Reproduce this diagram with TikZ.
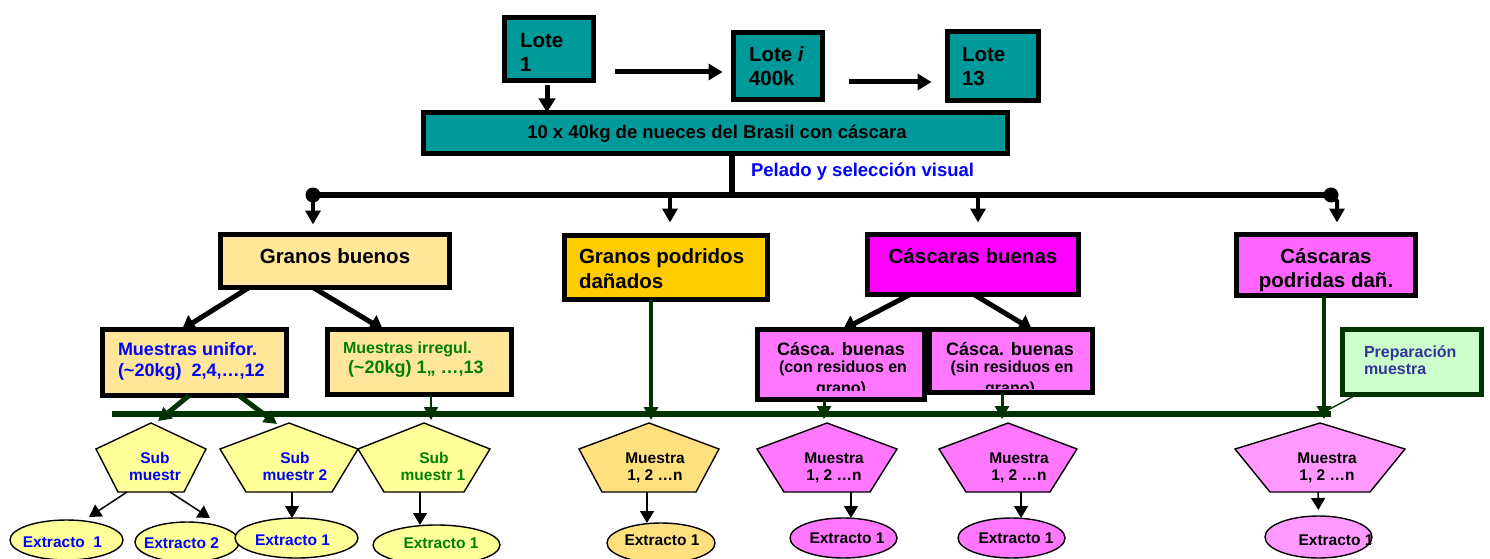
\documentclass[tikz,border=0pt]{standalone}
\usepackage{fontspec}
\setmainfont{Liberation Sans}
\usetikzlibrary{arrows.meta,shapes.geometric}
\definecolor{teal1}{HTML}{009999}
\definecolor{ylight}{HTML}{FFE699}
\definecolor{gold}{HTML}{FFCC00}
\definecolor{mag}{HTML}{FF00FF}
\definecolor{pinkA}{HTML}{FF77FF}
\definecolor{pinkB}{HTML}{FF99FF}
\definecolor{pinkC}{HTML}{FF66FF}
\definecolor{ypale}{HTML}{FFFF99}
\definecolor{ygold}{HTML}{FFE07F}
\definecolor{dkgreen}{HTML}{003300}
\definecolor{lgreen}{HTML}{CCFFCC}
\definecolor{txtgreen}{HTML}{008000}
\definecolor{txtpurple}{HTML}{333399}
\definecolor{txtblue}{HTML}{0000FF}
\newcommand\mypent[5]{%
  \draw[pent,fill=#5] (#2,423) -- (#2+#3,449) -- (#2+#4,492) -- (#2-#4,492) -- (#2-#3,449) -- cycle;
  \coordinate (#1t) at (#2,423);
  \coordinate (#1b) at (#2,492);}
\begin{document}
\begin{tikzpicture}[x=1pt,y=-1pt,
  box/.style={draw=black,line width=5pt,inner sep=0pt,outer sep=0pt},
  tb/.style={inner sep=0pt,outer sep=0pt,font=\fontsize{20.5}{24}\selectfont\bfseries},
  tm/.style={inner sep=0pt,outer sep=0pt,font=\fontsize{18}{21}\selectfont\bfseries},
  tmain/.style={inner sep=0pt,outer sep=0pt,font=\fontsize{18.5}{22}\selectfont\bfseries},
  tn/.style={inner sep=0pt,outer sep=0pt,font=\fontsize{16}{19}\selectfont\bfseries},
  ts/.style={inner sep=0pt,outer sep=0pt,font=\fontsize{15.5}{18}\selectfont\bfseries},
  bl/.style={draw=black,line width=6pt},
  barrow/.style={draw=black,line width=5pt,-{Triangle[length=14pt,width=16pt]}},
  darrow/.style={draw=black,line width=4pt,-{Triangle[length=14pt,width=15pt]}},
  karrow/.style={draw=black,line width=5pt,-{Triangle[length=13pt,width=17pt]}},
  gl/.style={draw=dkgreen,line width=5.5pt},
  garrow/.style={draw=dkgreen,-{Triangle[length=13pt,width=14pt]}},
  tarrow/.style={draw=black,line width=1.5pt,-{Triangle[length=12pt,width=14pt]}},
  ell/.style={draw=black,line width=1.4pt,ellipse,inner sep=0pt,outer sep=0pt},
  pent/.style={draw=black,line width=1.4pt,line join=miter},
]
\useasboundingbox (0,0) rectangle (1490,559);

% ---- lots and main bar
\node[box,fill=teal1,minimum width=89pt,minimum height=63pt] (lote1) at (549,49) {};
\node[box,fill=teal1,minimum width=89pt,minimum height=67pt] (lotei) at (778,66) {};
\node[box,fill=teal1,minimum width=91pt,minimum height=69pt] (lote13) at (993,66) {};
\node[box,fill=teal1,minimum width=584pt,minimum height=41pt] (main) at (715.5,133) {};

\draw[barrow,shorten <=21pt,shorten >=11pt] (lote1.east |- 0,72) -- (lotei.west |- 0,72);
\draw[barrow,shorten <=26pt,shorten >=16pt] (lotei.east |- 0,82) -- (lote13.west |- 0,82);
\draw[barrow,shorten <=5pt] (547,0 |- lote1.south) -- (547,0 |- main.north);

% ---- distribution line
\coordinate (jL) at (313,195);
\coordinate (jR) at (1331,195);
\coordinate (jM) at (732,195);
\draw[bl] (732,0 |- main.south) -- (jM);
\draw[bl] (jL) -- (jR);
\fill (jL) circle (7.5pt);
\fill (jR) circle (7.5pt);

% ---- category boxes
\node[box,fill=ylight,minimum width=229pt,minimum height=53pt] (gb) at (335,261) {};
\node[box,fill=gold,minimum width=203pt,minimum height=64pt] (gpd) at (666,267.5) {};
\node[box,fill=mag,minimum width=211pt,minimum height=60pt] (cb) at (973,264.5) {};
\node[box,fill=pinkC,minimum width=179pt,minimum height=61pt] (cpd) at (1326,265) {};

\draw[darrow,shorten >=10pt] (jL) -- (jL |- gb.north);
\draw[darrow,shorten >=13pt] (670,195) -- (670,0 |- gpd.north);
\draw[darrow,shorten >=12pt] (978,195) -- (978,0 |- cb.north);
\draw[darrow,shorten >=12pt] (jR) -- (1337,201) -- (1337,0 |- cpd.north);

% ---- sub boxes
\node[box,fill=ylight,minimum width=184pt,minimum height=66pt] (mu) at (194.5,362.5) {};
\node[box,fill=ylight,minimum width=184pt,minimum height=65pt] (mi) at (419.5,362) {};
\node[box,fill=pinkA,minimum width=167pt,minimum height=70pt] (cbc) at (841,364.5) {};
\node[box,fill=pinkA,minimum width=163pt,minimum height=63pt] (cbs) at (1011,361) {};
\node[box,draw=dkgreen,fill=lgreen,minimum width=139pt,minimum height=65pt] (prep) at (1412,362) {};

\draw[karrow] (249,0 |- gb.south) -- (182,0 |- mu.north);
\draw[karrow] (313,0 |- gb.south) -- (383,0 |- mi.north);
\draw[karrow] (910,0 |- cb.south) -- (843,0 |- cbc.north);
\draw[karrow] (974,0 |- cb.south) -- (1032,0 |- cbs.north);

% ---- green collector line
\coordinate (gL) at (112,414);
\coordinate (gR) at (1331,414);
\draw[gl] (gL) -- (gR);
\coordinate (prepEnd) at (1326,411);
\draw[draw=dkgreen,line width=1.3pt] (1357,0 |- prep.south) -- (prepEnd);

% ---- pentagons
\mypent{ps1}{151}{55}{33}{ypale}
\mypent{ps2}{289}{69}{43}{ypale}
\mypent{ps3}{424}{66}{40}{ypale}
\mypent{pgp}{649}{70}{47}{ygold}
\mypent{pcbc}{827}{70}{43}{pinkA}
\mypent{pcbs}{1008}{69}{42}{pinkA}
\mypent{pcpd}{1320}{85}{50}{pinkB}

\coordinate (ps1in) at (158,421);
\coordinate (ps2in) at (277,424);
\draw[garrow,line width=5pt] (189,0 |- mu.south) -- (ps1in);
\draw[garrow,line width=5pt] (239,0 |- mu.south) -- (ps2in);
\draw[garrow,line width=2pt,shorten >=3pt] (431,0 |- mi.south) -- (431,0 |- ps3t);
\draw[garrow,line width=4pt,shorten >=3pt] (651,0 |- gpd.south) -- (651,0 |- pgpt);
\draw[garrow,line width=3pt,shorten >=4pt] (824,0 |- cbc.south) -- (824,0 |- pcbct);
\draw[garrow,line width=3pt,shorten >=4pt] (1002,0 |- cbs.south) -- (1002,0 |- pcbst);
\draw[garrow,line width=4pt,shorten >=4pt] (1324,0 |- cpd.south) -- (1324,0 |- pcpdt);

% ---- ellipses
\node[ell,fill=ypale,minimum width=113pt,minimum height=40pt] (e1) at (66.5,540) {};
\node[ell,fill=ypale,minimum width=104pt,minimum height=40pt] (e2) at (187,542) {};
\node[ell,fill=ypale,minimum width=123pt,minimum height=40pt] (e3) at (296.5,538) {};
\node[ell,fill=ypale,minimum width=127pt,minimum height=40pt] (e4) at (436.5,545) {};
\node[ell,fill=ygold,minimum width=108pt,minimum height=40pt] (e5) at (661,543) {};
\node[ell,fill=pinkA,minimum width=107pt,minimum height=40pt] (e6) at (843.5,538) {};
\node[ell,fill=pinkA,minimum width=107pt,minimum height=40pt] (e7) at (1011.5,538) {};
\node[ell,fill=pinkB,minimum width=107pt,minimum height=42pt] (e8) at (1318.5,537) {};

\draw[tarrow] (127,0 |- ps1b) -- (89,517);
\draw[tarrow] (170,0 |- ps1b) -- (210,518);
\draw[tarrow] (292,0 |- ps2b) -- (292,0 |- e3.north);
\draw[tarrow] (420,0 |- ps3b) -- (420,0 |- e4.north);
\draw[tarrow] (647,0 |- pgpb) -- (647,0 |- e5.north);
\draw[tarrow] (851,0 |- pcbcb) -- (851,0 |- e6.north);
\draw[tarrow] (1021,0 |- pcbsb) -- (1021,0 |- e7.north);
\draw[tarrow,shorten >=6pt] (1318,0 |- pcpdb) -- (e8.north);

% ---- texts
\node[tb,anchor=base west] (t1a) at (520,48) {Lote};
\node[tb,anchor=base west] (t1b) at (520,72) {1};
\node[tb,anchor=base west] (t2a) at (749,62) {Lote \textit{i}};
\node[tb,anchor=base west] (t2b) at (749,86) {400k};
\node[tb,anchor=base west] (t3a) at (962,62) {Lote};
\node[tb,anchor=base west] (t3b) at (962,86) {13};
\node[tmain,anchor=base] (tmain) at (717,139) {10 x 40kg de nueces del Brasil con cáscara};
\node[tmain,anchor=base west,text=txtblue] (tpel) at (751,176) {Pelado y selección visual};

\node[tb,anchor=base] (tgb) at (335,263) {Granos buenos};
\node[tb,anchor=base west] (tgpa) at (579,263) {Granos podridos};
\node[tb,anchor=base west] (tgpb) at (579,288) {dañados};
\node[tb,anchor=base] (tcb) at (973,263) {Cáscaras buenas};
\node[tb,anchor=base] (tcpa) at (1326,263) {Cáscaras};
\node[tb,anchor=base] (tcpb) at (1326,287) {podridas dañ.};

\node[tm,anchor=base west,text=txtblue] (tmua) at (118,355) {Muestras unifor.};
\node[tm,anchor=base west,text=txtblue] (tmub) at (118,376) {(\textasciitilde20kg)\ \ 2,4,…,12};
\node[tn,anchor=base west,text=txtgreen] (tmia) at (343,353) {Muestras irregul.};
\node[tm,anchor=base west,text=txtgreen] (tmib) at (348,373) {(\textasciitilde20kg) 1,, …,13};

\node[tm,anchor=base] (tcca) at (841,355) {Cásca. buenas};
\node[tn,anchor=base] (tccb) at (843,372) {(con residuos en};
\begin{scope}
\clip (760,330) rectangle (924,390);
\node[tn,anchor=base] (tccc) at (841,393) {grano)};
\end{scope}
\node[tm,anchor=base] (tcsa) at (1010,355) {Cásca. buenas};
\node[tn,anchor=base] (tcsb) at (1012,372) {(sin residuos en};
\begin{scope}
\clip (930,330) rectangle (1092,388);
\node[tn,anchor=base] (tcsc) at (1010,393) {grano)};
\end{scope}
\node[tn,anchor=base west,text=txtpurple] (tpra) at (1364,357) {Preparación};
\node[tn,anchor=base west,text=txtpurple] (tprb) at (1364,374) {muestra};

\node[ts,anchor=base,text=txtblue] (s1a) at (155,463) {Sub};
\node[ts,anchor=base,text=txtblue] (s1b) at (155,480) {muestr};
\node[ts,anchor=base,text=txtblue] (s2a) at (295,463) {Sub};
\node[ts,anchor=base,text=txtblue] (s2b) at (295,480) {muestr 2};
\node[ts,anchor=base,text=txtgreen] (s3a) at (434,463) {Sub};
\node[ts,anchor=base,text=txtgreen] (s3b) at (433,480) {muestr 1};
\node[ts,anchor=base] (m1a) at (655,463) {Muestra};
\node[ts,anchor=base] (m1b) at (655,480) {1, 2 …n};
\node[ts,anchor=base] (m2a) at (834,463) {Muestra};
\node[ts,anchor=base] (m2b) at (834,480) {1, 2 …n};
\node[ts,anchor=base] (m3a) at (1019,463) {Muestra};
\node[ts,anchor=base] (m3b) at (1019,480) {1, 2 …n};
\node[ts,anchor=base] (m4a) at (1327,463) {Muestra};
\node[ts,anchor=base] (m4b) at (1327,480) {1, 2 …n};

\node[ts,anchor=base,text=txtblue] (x1) at (62.5,547) {Extracto\ \ 1};
\node[ts,anchor=base,text=txtblue] (x2) at (181.5,548) {Extracto 2};
\node[ts,anchor=base,text=txtblue] (x3) at (292.5,545) {Extracto 1};
\node[ts,anchor=base,text=txtgreen] (x4) at (441,548) {Extracto 1};
\node[ts,anchor=base] (x5) at (662,545) {Extracto 1};
\node[ts,anchor=base] (x6) at (847,543) {Extracto 1};
\node[ts,anchor=base] (x7) at (1016,543) {Extracto 1};
\begin{scope}
\clip (e8.center) ellipse (55pt and 21pt);
\node[ts,anchor=base] (x8) at (1336,545) {Extracto 1};
\end{scope}
\end{tikzpicture}
\end{document}
